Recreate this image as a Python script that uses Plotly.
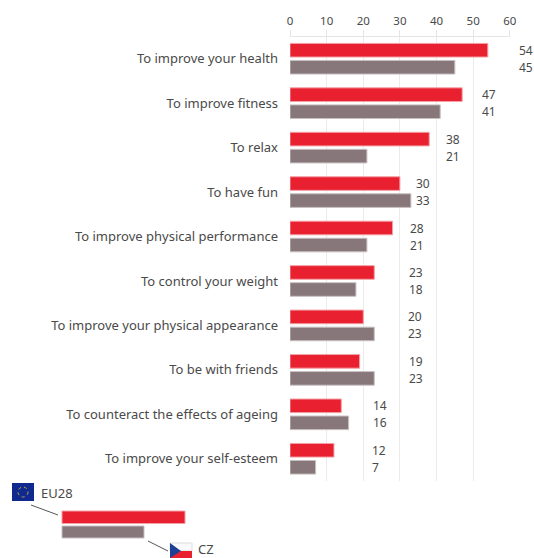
import plotly.graph_objects as go

categories = ["To improve your health", "To improve fitness", "To relax", "To have fun",
              "To improve physical performance", "To control your weight",
              "To improve your physical appearance", "To be with friends",
              "To counteract the effects of ageing", "To improve your self-esteem"]
eu28 = [54, 47, 38, 30, 28, 23, 20, 19, 14, 12]
cz = [45, 41, 21, 33, 21, 18, 23, 23, 16, 7]
# horizontal offset (px) of each row's pair of labels from the end of the red bar
label_offset = [29, 18, 15, 14, 15, 33, 43, 47, 30, 36]
x_ticks = [0, 10, 20, 30, 40, 50, 60]

W, H = 534, 558
RED, GREY = "#e8202f", "#87777a"
TXT = "#4a4a4a"
FONT = "Noto Sans"

def px(x): return x / W
def py(y): return 1 - y / H

fig = go.Figure()
fig.add_trace(go.Bar(y=categories, x=eu28, orientation="h", name="EU28",
                     marker=dict(color=RED, line=dict(color="#f3a0a6", width=1))))
fig.add_trace(go.Bar(y=categories, x=cz, orientation="h", name="CZ",
                     marker=dict(color=GREY, line=dict(color="#c9c0c2", width=1))))

annotations = []
for cat, a, b, off in zip(categories, eu28, cz, label_offset):
    for val, shift in ((a, -8.5), (b, 8.5)):
        annotations.append(dict(x=a, y=cat, xref="x", yref="y", text=str(val), showarrow=False,
                                xanchor="left", xshift=off, yshift=-shift,
                                font=dict(family=FONT, size=12, color=TXT)))

annotations += [
    dict(x=px(39), y=py(493), xref="paper", yref="paper", text="EU28", showarrow=False,
         xanchor="left", yanchor="middle", font=dict(family=FONT, size=13, color=TXT)),
    dict(x=px(196), y=py(549), xref="paper", yref="paper", text="CZ", showarrow=False,
         xanchor="left", yanchor="middle", font=dict(family=FONT, size=13, color=TXT)),
]

def rect(x0, y0, x1, y1, fill, line=None):
    return dict(type="rect", xref="paper", yref="paper", x0=px(x0), x1=px(x1), y0=py(y0), y1=py(y1),
                fillcolor=fill, line=dict(color=line or fill, width=1 if line else 0), layer="above")

def seg(x0, y0, x1, y1):
    return dict(type="line", xref="paper", yref="paper", x0=px(x0), x1=px(x1), y0=py(y0), y1=py(y1),
                line=dict(color="#555555", width=1), layer="above")

shapes = [
    rect(62, 511, 185, 523.5, RED, "#f3a0a6"),
    rect(62, 526, 144, 538, GREY, "#c9c0c2"),
    seg(31, 505, 58, 515),
    seg(148, 541, 168, 551),
    rect(12, 483, 34, 501, "#10298e"),
    dict(type="circle", xref="paper", yref="paper", x0=px(18), x1=px(28), y0=py(487), y1=py(497),
         line=dict(color="#b8a640", width=1, dash="dot"), layer="above"),
    rect(170, 543, 192, 551, "#fafafa", "#dddddd"),
    rect(170, 551, 192, 558, "#e8202f"),
    dict(type="path", xref="paper", yref="paper",
         path=f"M {px(170)} {py(543)} L {px(181)} {py(551)} L {px(170)} {py(558)} Z",
         fillcolor="#1d3f94", line=dict(width=0), layer="above"),
]

fig.update_layout(
    width=W, height=H, margin=dict(l=0, r=0, t=0, b=0), autosize=False,
    paper_bgcolor="white", plot_bgcolor="white", showlegend=False,
    barmode="group", bargap=0.234, bargroupgap=0.2,
    font=dict(family=FONT, color=TXT),
    annotations=annotations, shapes=shapes,
    xaxis=dict(domain=[px(290), px(509.8)], range=[0, 60], side="top", tickvals=x_ticks, automargin=False,
               showgrid=True, gridcolor="#ebebeb", gridwidth=1, zeroline=False,
               showline=True, linecolor="#e4e4e4", ticks="outside", ticklen=6, tickcolor="#e4e4e4",
               tickfont=dict(family=FONT, size=11.5, color=TXT)),
    yaxis=dict(domain=[py(481), py(36.5)], autorange="reversed", showgrid=False, zeroline=False, automargin=False,
               showline=False, ticks="", ticklabelstandoff=11,
               tickfont=dict(family=FONT, size=13, color=TXT)),
)
fig.write_html("out.html", config={"displayModeBar": False},
               post_script="document.documentElement.style.overflow='hidden';document.body.style.margin='0';document.body.style.overflow='hidden';")
